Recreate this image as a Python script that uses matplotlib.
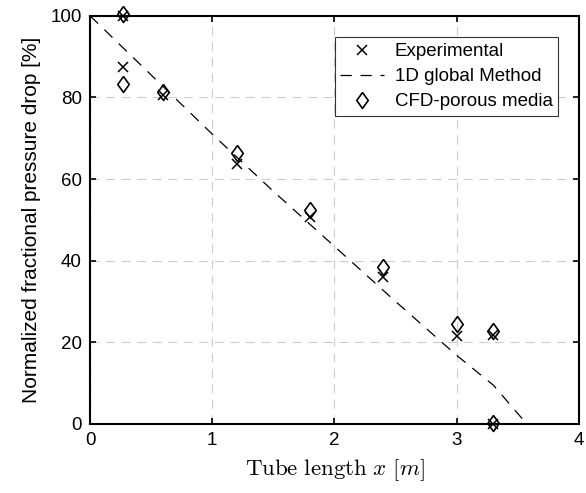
import matplotlib
matplotlib.use('Agg')
import matplotlib.pyplot as plt

plt.rcParams['font.family'] = ['Liberation Sans', 'DejaVu Sans']
plt.rcParams['mathtext.fontset'] = 'cm'

# Experimental data
x_exp = [0.27, 0.27, 0.6, 1.2, 1.8, 2.4, 3.0, 3.3, 3.3]
y_exp = [100, 87.5, 80.5, 63.8, 50.8, 36.0, 21.5, 21.8, 0]

# CFD-porous media
x_cfd = [0.27, 0.27, 0.6, 1.2, 1.8, 2.4, 3.0, 3.3, 3.3]
y_cfd = [100.5, 83.2, 81.3, 66.5, 52.5, 38.4, 24.6, 22.8, 0.3]

# 1D global method
x_1d = [0, 0.5, 1.0, 1.5, 2.0, 2.5, 3.0, 3.3, 3.573]
y_1d = [100, 85.5, 71.0, 57.0, 43.5, 30.0, 16.8, 9.5, 0]

# MATLAB-style diamond (wider than matplotlib's thin diamond)
diamond = [(0, 1), (0.72, 0), (0, -1), (-0.72, 0), (0, 1)]

fig = plt.figure(figsize=(5.86, 4.93), dpi=100)
ax = fig.add_axes([0.1536, 0.140, 0.8344, 0.828])

ax.plot(x_exp, y_exp, 'kx', markersize=7.5, markeredgewidth=1.1, label='Experimental', clip_on=False, zorder=4)
ax.plot(x_1d, y_1d, 'k--', linewidth=0.9, dashes=(9, 7), label='1D global Method', zorder=3)
ax.plot(x_cfd, y_cfd, linestyle='none', marker=diamond, color='k', markersize=11.5, markerfacecolor='none',
        markeredgewidth=1.2, label='CFD-porous media', clip_on=False, zorder=4)

ax.set_xlim(0, 4)
ax.set_ylim(0, 100)
ax.set_xticks([0, 1, 2, 3, 4])
ax.set_yticks([0, 20, 40, 60, 80, 100])
ax.tick_params(direction='in', top=True, right=True, labelsize=13.5, length=4, width=1.2, pad=6)
for s in ax.spines.values():
    s.set_linewidth(1.5)

ax.grid(True, color='#cccccc', linestyle=(0, (8, 6)), linewidth=0.8)
ax.set_axisbelow(True)

ax.set_xlabel(r'$\mathrm{Tube\ length}\ x\ [m]$', fontsize=16.5, labelpad=6)
ax.set_ylabel('Normalized fractional pressure drop [%]', fontsize=15, labelpad=7)

leg = ax.legend(loc='upper right', bbox_to_anchor=(0.958, 0.947), fontsize=13.5, fancybox=False,
                edgecolor='#333333', framealpha=1, handlelength=2.3, borderpad=0.3, labelspacing=0.42,
                handletextpad=0.6, borderaxespad=0)
leg.get_frame().set_linewidth(0.8)

fig.savefig('out.png', dpi=100)
